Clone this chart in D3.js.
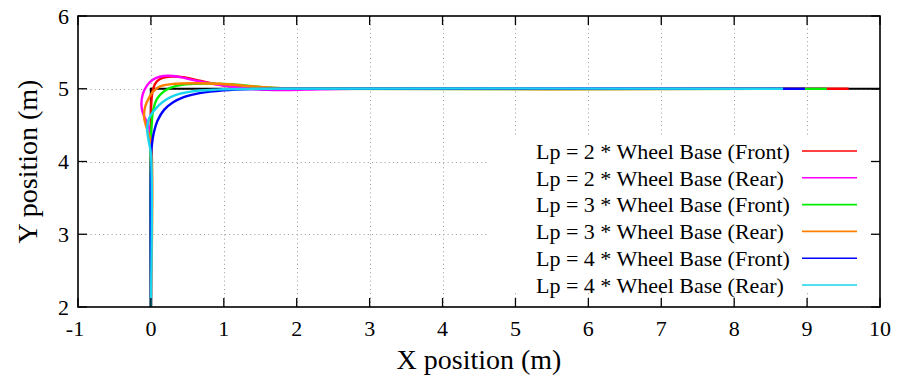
<!DOCTYPE html>
<html>
<head>
<meta charset="utf-8">
<script src="https://cdn.jsdelivr.net/npm/d3@7"></script>
<style>
  body { margin: 0; background: #fff; }
  svg { display: block; }
  text { font-family: "Liberation Serif", "Times New Roman", serif; fill: #000; }
</style>
</head>
<body>
<svg id="chart" width="898" height="385"></svg>
<script>
// Axis ticks
const xTicks = [-1, 0, 1, 2, 3, 4, 5, 6, 7, 8, 9, 10];
const yTicks = [2, 3, 4, 5, 6];
const xGrid = [0, 1, 2, 3, 4, 5, 6, 7, 8, 9];
const yGrid = [3, 4, 5];

// Desired path: straight up x = 0, then along y = 5
const referencePath = [[0, 2], [0, 5], [10, 5]];

// Tracked paths (x, y in metres)
const lp2Front = [[0, 2], [0, 4.5], [0.005, 4.8], [0.03, 5.0], [0.08, 5.1], [0.16, 5.15], [0.28, 5.168],
  [0.44, 5.16], [0.67, 5.11], [1.0, 5.045], [1.35, 5.008], [1.7, 4.997], [2.2, 4.998], [3, 5], [9.57, 5]];
const lp2Rear = [[0, 2], [0, 4.35], [-0.02, 4.45], [-0.07, 4.57], [-0.12, 4.7], [-0.13, 4.8], [-0.11, 4.93],
  [-0.05, 5.05], [0.02, 5.12], [0.12, 5.165], [0.24, 5.178], [0.4, 5.16], [0.67, 5.1], [1.0, 5.045],
  [1.3, 5.005], [1.6, 4.985], [1.9, 4.983], [2.3, 4.993], [2.8, 5], [9.27, 5]];
const lp3Front = [[0, 2], [0, 4.3], [0.01, 4.5], [0.03, 4.7], [0.09, 4.87], [0.2, 4.98], [0.35, 5.04],
  [0.55, 5.065], [0.8, 5.07], [1.1, 5.062], [1.4, 5.035], [1.7, 5.012], [2.1, 5.0], [9.27, 5]];
const lp3Rear = [[0, 2], [0, 4.28], [-0.03, 4.38], [-0.07, 4.5], [-0.095, 4.62], [-0.08, 4.75], [-0.03, 4.87],
  [0.03, 4.96], [0.12, 5.03], [0.3, 5.065], [0.6, 5.075], [0.95, 5.068], [1.3, 5.04], [1.65, 5.015],
  [2.1, 5.0], [8.97, 5]];
const lp4Front = [[0, 2], [0, 3.95], [0.01, 4.2], [0.04, 4.4], [0.09, 4.56], [0.18, 4.71], [0.3, 4.81],
  [0.45, 4.885], [0.67, 4.94], [1.0, 4.978], [1.4, 4.995], [2.0, 5.0], [8.97, 5]];
const lp4Rear = [[0, 2], [0, 4.1], [-0.03, 4.28], [-0.05, 4.42], [-0.04, 4.55], [0.0, 4.64], [0.06, 4.72],
  [0.15, 4.81], [0.3, 4.9], [0.55, 4.96], [0.9, 4.988], [1.4, 5.0], [8.67, 5]];

const seriesLabels = [
  "Lp = 2 * Wheel Base (Front)", "Lp = 2 * Wheel Base (Rear)",
  "Lp = 3 * Wheel Base (Front)", "Lp = 3 * Wheel Base (Rear)",
  "Lp = 4 * Wheel Base (Front)", "Lp = 4 * Wheel Base (Rear)"
];
const seriesColors = ["#ff0000", "#ff00ff", "#00ee00", "#ff8000", "#0000ff", "#18d4ee"];
const seriesData = [lp2Front, lp2Rear, lp3Front, lp3Rear, lp4Front, lp4Rear];

const plot = { left: 78, right: 880, top: 16, bottom: 307 };
const svg = d3.select("#chart");

const x = d3.scaleLinear().domain([-1, 10]).range([plot.left, plot.right]);
const y = d3.scaleLinear().domain([2, 6]).range([plot.bottom, plot.top]);

// Dotted grid
const grid = svg.append("g").attr("stroke", "#9a9a9a").attr("stroke-width", 1)
  .attr("stroke-dasharray", "1,3.2");
grid.selectAll("line.gx").data(xGrid).join("line")
  .attr("x1", d => Math.round(x(d)) + 0.5).attr("x2", d => Math.round(x(d)) + 0.5)
  .attr("y1", plot.top).attr("y2", plot.bottom);
grid.selectAll("line.gy").data(yGrid).join("line")
  .attr("x1", plot.left).attr("x2", plot.right)
  .attr("y1", d => Math.round(y(d)) + 0.5).attr("y2", d => Math.round(y(d)) + 0.5);

const line = d3.line().x(d => x(d[0])).y(d => y(d[1])).curve(d3.curveCatmullRom.alpha(0.5));

svg.append("path").datum(referencePath)
  .attr("d", d3.line().x(d => x(d[0])).y(d => y(d[1])))
  .attr("fill", "none").attr("stroke", "#000").attr("stroke-width", 2.2);

svg.append("g").selectAll("path").data(seriesData).join("path")
  .attr("d", line)
  .attr("fill", "none")
  .attr("stroke", (d, i) => seriesColors[i])
  .attr("stroke-width", 2.4)
  .attr("stroke-linejoin", "round");

// Legend with opaque background
const legend = svg.append("g");
legend.append("rect").attr("x", 487).attr("y", 137).attr("width", 392).attr("height", 154).attr("fill", "#fff");
const rowY = i => 151 + i * 26.8;
legend.selectAll("text").data(seriesLabels).join("text")
  .attr("x", 536).attr("y", (d, i) => rowY(i)).attr("dy", "0.35em")
  .attr("text-anchor", "start").attr("font-size", 22).text(d => d);
legend.selectAll("line").data(seriesLabels).join("line")
  .attr("x1", 802).attr("x2", 857)
  .attr("y1", (d, i) => rowY(i)).attr("y2", (d, i) => rowY(i))
  .attr("stroke", (d, i) => seriesColors[i]).attr("stroke-width", 1.6);

// Axes: inward ticks on all four sides
const tickLen = 9;
const axes = svg.append("g").attr("stroke", "#000").attr("stroke-width", 1.3);
xTicks.forEach(t => {
  axes.append("line").attr("x1", x(t)).attr("x2", x(t)).attr("y1", plot.bottom).attr("y2", plot.bottom - tickLen);
  axes.append("line").attr("x1", x(t)).attr("x2", x(t)).attr("y1", plot.top).attr("y2", plot.top + tickLen);
});
yTicks.forEach(t => {
  axes.append("line").attr("x1", plot.left).attr("x2", plot.left + tickLen).attr("y1", y(t)).attr("y2", y(t));
  axes.append("line").attr("x1", plot.right).attr("x2", plot.right - tickLen).attr("y1", y(t)).attr("y2", y(t));
});
svg.append("rect").attr("x", plot.left).attr("y", plot.top)
  .attr("width", plot.right - plot.left).attr("height", plot.bottom - plot.top)
  .attr("fill", "none").attr("stroke", "#000").attr("stroke-width", 1.6);

svg.append("g").selectAll("text").data(xTicks).join("text")
  .attr("x", d => x(d) - (d < 0 ? 3 : 0)).attr("y", 336)
  .attr("text-anchor", "middle").attr("font-size", 22).text(d => d);
svg.append("g").selectAll("text").data(yTicks).join("text")
  .attr("x", 69).attr("y", d => y(d)).attr("dy", "0.35em")
  .attr("text-anchor", "end").attr("font-size", 22).text(d => d);

svg.append("text").attr("x", (plot.left + plot.right) / 2).attr("y", 369)
  .attr("text-anchor", "middle").attr("font-size", 28).text("X position (m)");
svg.append("text").attr("transform", `translate(37,${(plot.top + plot.bottom) / 2}) rotate(-90)`)
  .attr("text-anchor", "middle").attr("font-size", 28).text("Y position (m)");
</script>
</body>
</html>
